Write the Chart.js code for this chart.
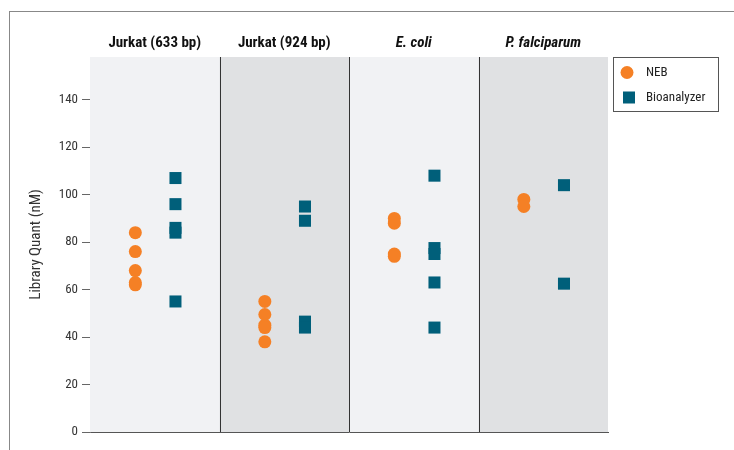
<!DOCTYPE html>
<html>
<head>
<meta charset="utf-8">
<script src="https://cdn.jsdelivr.net/npm/chart.js@4.4.0/dist/chart.umd.min.js"></script>
<style>
  html, body { margin: 0; padding: 0; background: #fff; }
  #wrap { position: relative; width: 734px; height: 450px; overflow: hidden; }
  #frame { position: absolute; left: 9px; top: 11px; width: 800px; height: 500px;
           border-left: 1px solid #888; border-top: 1px solid #888; }
  canvas { position: absolute; left: 0; top: 0; }
</style>
</head>
<body>
<div id="wrap">
  <div id="frame"></div>
  <canvas id="chart" width="734" height="450"></canvas>
</div>
<script>
// 카테고리 / 시리즈
const categories = ['Jurkat (633 bp)', 'Jurkat (924 bp)', 'E. coli', 'P. falciparum'];
const italicCats = [false, false, true, true];
const nebValues = [
    [84, 76, 68, 63, 62],
    [55, 49.5, 45, 44, 38],
    [90, 88, 75, 74],
    [98, 95]
];
const bioValues = [
    [107, 96, 86, 84, 55],
    [95, 89, 46.5, 44],
    [108, 77.5, 75, 63, 44],
    [104, 62.5]
];
const yTicks = [0, 20, 40, 60, 80, 100, 120, 140];
const seriesNames = ['NEB', 'Bioanalyzer'];

const FONT = "'Liberation Sans Narrow', 'Roboto Condensed', 'DejaVu Sans Condensed', sans-serif";
const orange = '#f58025';
const teal = '#005f7a';

function toPoints(groups, offset){
    let pts = [];
    groups.forEach((vals, i) => {
        vals.forEach(v => pts.push({x: i + offset, y: v}));
    });
    return pts;
}

// 패널 배경, 제목, 범례
const panelPlugin = {
    id: 'panels',
    beforeDatasetsDraw(chart){
        const {ctx, chartArea, scales} = chart;
        const x = scales.x;
        ctx.save();
        categories.forEach((c, i) => {
            let x0 = x.getPixelForValue(i);
            let x1 = x.getPixelForValue(i + 1);
            ctx.fillStyle = i % 2 ? '#e0e1e3' : '#f1f2f4';
            ctx.fillRect(x0, chartArea.top, x1 - x0, chartArea.bottom - chartArea.top);
        });
        ctx.strokeStyle = '#333';
        ctx.lineWidth = 1;
        for (let i = 1; i < categories.length; i++){
            let px = Math.round(x.getPixelForValue(i)) + 0.5;
            ctx.beginPath();
            ctx.moveTo(px, chartArea.top);
            ctx.lineTo(px, chartArea.bottom);
            ctx.stroke();
        }
        ctx.restore();
    },
    afterDraw(chart){
        const {ctx, scales} = chart;
        const x = scales.x;
        ctx.save();
        ctx.fillStyle = '#111';
        ctx.textAlign = 'center';
        ctx.textBaseline = 'middle';
        categories.forEach((c, i) => {
            ctx.font = (italicCats[i] ? 'italic ' : '') + 'bold 15px ' + FONT;
            ctx.fillText(c, x.getPixelForValue(i + 0.5), 43);
        });

        // 범례
        ctx.strokeStyle = '#555';
        ctx.lineWidth = 1;
        ctx.strokeRect(613.5, 57.5, 105, 54);
        ctx.fillStyle = orange;
        ctx.beginPath();
        ctx.arc(627, 72.5, 6.5, 0, Math.PI * 2);
        ctx.fill();
        ctx.fillStyle = teal;
        ctx.fillRect(623, 91.5, 12, 12);
        ctx.fillStyle = '#222';
        ctx.textAlign = 'left';
        ctx.font = '13px ' + FONT;
        ctx.fillText(seriesNames[0], 646, 73);
        ctx.fillText(seriesNames[1], 646, 98);
        ctx.restore();
    }
};

const chart = new Chart(document.getElementById('chart').getContext('2d'), {
    type: 'scatter',
    data: {
        datasets: [
            {
                label: seriesNames[0],
                data: toPoints(nebValues, 0.35),
                pointStyle: 'circle',
                pointRadius: 6.5,
                pointHoverRadius: 6.5,
                backgroundColor: orange,
                borderWidth: 0
            },
            {
                label: seriesNames[1],
                data: toPoints(bioValues, 0.66),
                pointStyle: 'rect',
                pointRadius: 8.5,
                pointHoverRadius: 8.5,
                backgroundColor: teal,
                borderWidth: 0
            }
        ]
    },
    options: {
        responsive: false,
        animation: false,
        layout: { padding: { left: 27, top: 57, right: 126, bottom: 18 } },
        scales: {
            x: {
                type: 'linear',
                min: 0,
                max: categories.length,
                ticks: { display: false },
                grid: { display: false, drawTicks: false },
                border: { display: true, color: '#555', width: 1 },
                afterFit(s){ s.height = 0; }
            },
            y: {
                min: 0,
                max: 158,
                afterBuildTicks(s){ s.ticks = yTicks.map(v => ({value: v})); },
                ticks: {
                    color: '#333',
                    padding: 4,
                    font: { family: FONT, size: 13 }
                },
                grid: { drawOnChartArea: false, drawTicks: true, tickLength: 8, color: '#666' },
                border: { display: true, color: '#777', width: 1 },
                title: {
                    display: true,
                    text: 'Library Quant (nM)',
                    color: '#333',
                    padding: { top: 0, bottom: 4 },
                    font: { family: FONT, size: 15 }
                },
                afterFit(s){ s.width = 63; }
            }
        },
        plugins: {
            legend: { display: false },
            tooltip: { enabled: false }
        }
    },
    plugins: [panelPlugin]
});
</script>
</body>
</html>
